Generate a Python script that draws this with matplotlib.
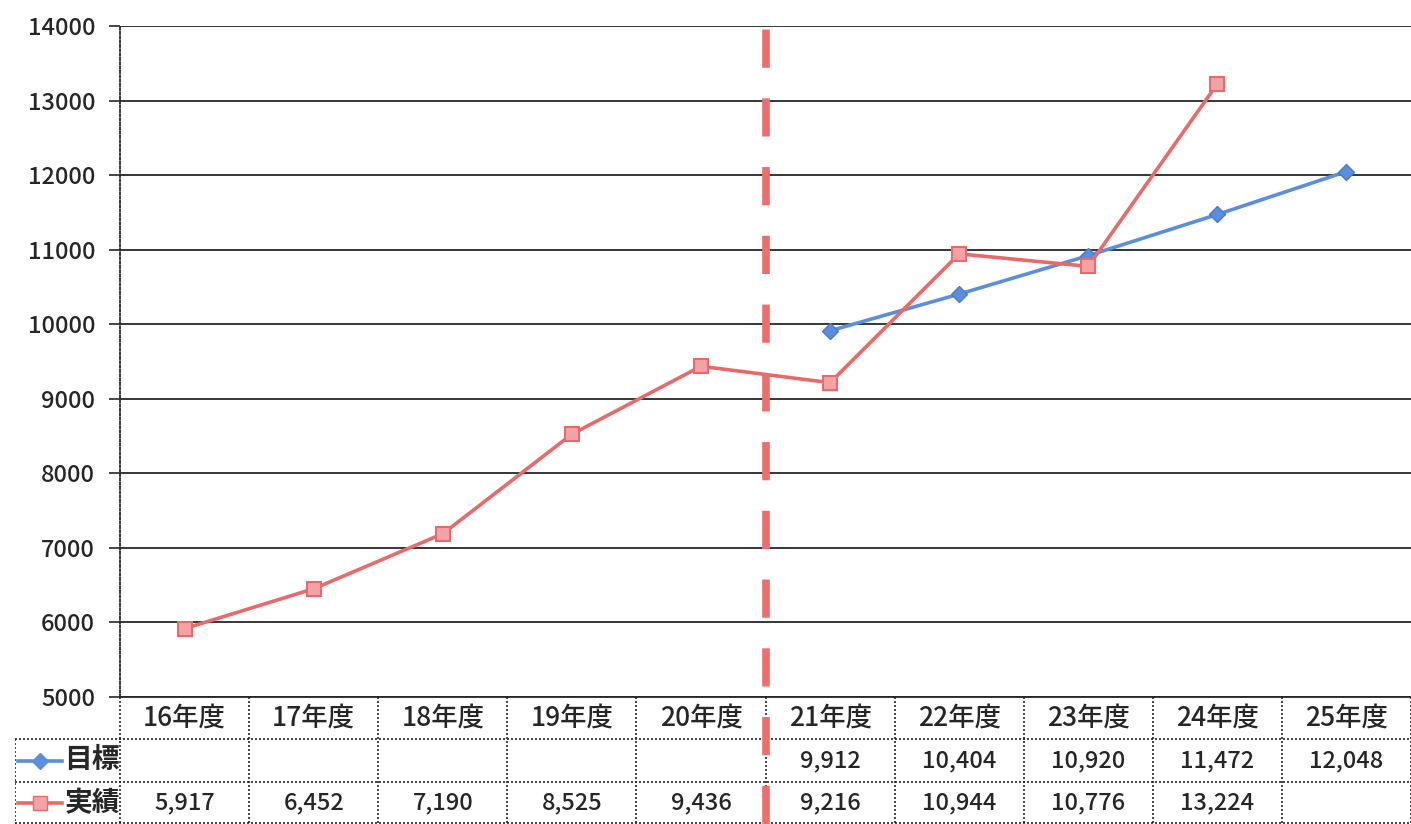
import numpy as np
import matplotlib
matplotlib.use("Agg")
import matplotlib.pyplot as plt

plt.rcParams['font.family'] = ['Noto Sans CJK JP', 'DejaVu Sans']

# data
years = ['16年度', '17年度', '18年度', '19年度', '20年度',
         '21年度', '22年度', '23年度', '24年度', '25年度']
target = [np.nan, np.nan, np.nan, np.nan, np.nan, 9912, 10404, 10920, 11472, 12048]
actual = [5917, 6452, 7190, 8525, 9436, 9216, 10944, 10776, 13224, np.nan]
series_names = ['目標', '実績']
yticks = list(range(5000, 14001, 1000))

blue = '#5B8EDC'
red = '#E96A6A'
red_face = '#F3A3A3'
ink = '#262626'
dotted = (0, (1.2, 1.2))

W, H = 1411, 824
fig = plt.figure(figsize=(W / 100, H / 100), dpi=100)

ax = fig.add_axes([120 / W, 127 / H, 1291 / W, 671 / H])
ax.set_zorder(2)
x = np.arange(len(years))
ax.set_xlim(-0.5, len(years) - 0.5)
ax.set_ylim(5000, 14000)
ax.set_yticks(yticks)
ax.set_yticklabels([str(v) for v in yticks], fontsize=17, color=ink,
                   fontweight='medium')
ax.set_xticks([])
ax.yaxis.grid(True, color=ink, lw=1.3)
ax.set_axisbelow(True)
ax.tick_params(axis='y', length=8, width=1.2, color=ink, pad=10)
for s in ['top', 'right']:
    ax.spines[s].set_visible(False)
ax.spines['bottom'].set_color(ink)
ax.spines['bottom'].set_linewidth(1.3)
ax.spines['left'].set_color(ink)
ax.spines['left'].set_linestyle(dotted)
ax.spines['left'].set_linewidth(1.3)

ax.plot(x, target, color=blue, lw=2.6, marker='D', ms=8,
        mfc=blue, mec='#4a7bc8', zorder=4)
ax.plot(x, actual, color=red, lw=2.6, marker='s', ms=10,
        mfc=red_face, mec=red, mew=1.5, zorder=4)

# red dashed divider between 20年度 and 21年度, running through the table
ylow = 5000 - 127 / 671 * 9000
ax.plot([4.5, 4.5], [ylow, 14060], color='#EE6E6E', lw=5.5,
        dashes=(5, 4), clip_on=False, zorder=5)

# data table under the plot
tax = fig.add_axes([15 / W, 0, 1396 / W, 127 / H])
tax.set_zorder(1)
tax.set_xlim(-0.5 - 105 / 129, len(years) - 0.5)
tax.set_ylim(3, 0)
tax.axis('off')
tax.patch.set_visible(False)
left = -0.5 - 105 / 129

for i in range(len(years) + 1):
    tax.plot([i - 0.5, i - 0.5], [0, 3], color=ink, lw=1.2, ls=dotted)
tax.plot([left, left], [1, 3], color=ink, lw=1.2, ls=dotted)
for r in [1, 2, 2.97]:
    tax.plot([left, len(years) - 0.5], [r, r], color=ink, lw=1.2, ls=dotted)

for i, yr in enumerate(years):
    tax.text(i, 0.5, yr, ha='center', va='center', fontsize=19, color=ink,
             fontweight='medium')
    if not np.isnan(target[i]):
        tax.text(i, 1.5, f'{int(target[i]):,}', ha='center', va='center',
                 fontsize=17, color=ink, fontweight='medium')
    if not np.isnan(actual[i]):
        tax.text(i, 2.5, f'{int(actual[i]):,}', ha='center', va='center',
                 fontsize=17, color=ink, fontweight='medium')

# legend keys in the first column
kx = [left + 0.02, -0.95]
tax.plot(kx, [1.5, 1.5], color=blue, lw=2.6)
tax.plot([np.mean(kx)], [1.5], marker='D', ms=8, color=blue)
tax.plot(kx, [2.5, 2.5], color=red, lw=2.6)
tax.plot([np.mean(kx)], [2.5], marker='s', ms=10, mfc=red_face, mec=red)
tax.text(-0.93, 1.5, series_names[0], ha='left', va='center',
         fontsize=20, fontweight='bold', color=ink)
tax.text(-0.93, 2.5, series_names[1], ha='left', va='center',
         fontsize=20, fontweight='bold', color=ink)

fig.savefig('out.png', dpi=100)
